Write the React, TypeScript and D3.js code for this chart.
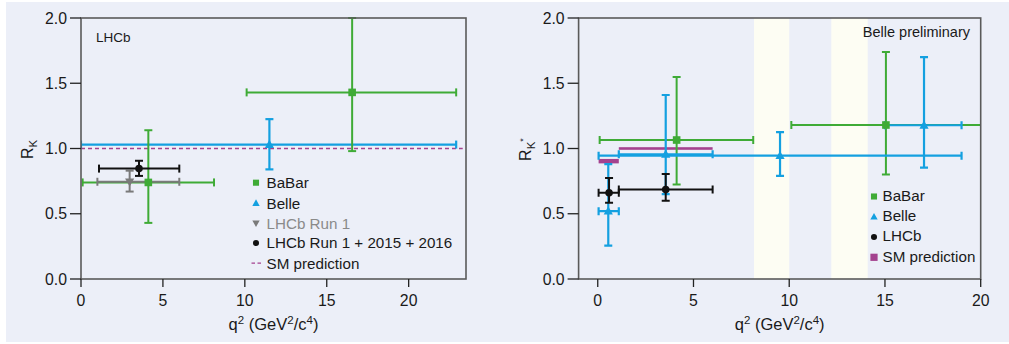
import React from "react";
import * as d3 from "d3";

type Pt = { q2: number; q2Lo: number; q2Hi: number; r: number; rLo: number; rHi: number };

const yTicks = [0, 0.5, 1.0, 1.5, 2.0];
const xTicksLeft = [0, 5, 10, 15, 20];
const xTicksRight = [0, 5, 10, 15, 20];

// Left panel: R_K
const leftBaBar: Pt[] = [
  { q2: 4.11, q2Lo: 0.1, q2Hi: 8.12, r: 0.74, rLo: 0.43, rHi: 1.14 },
  { q2: 16.55, q2Lo: 10.11, q2Hi: 22.9, r: 1.43, rLo: 0.98, rHi: 2.0 },
];
const leftBelle: Pt[] = [{ q2: 11.5, q2Lo: 0, q2Hi: 22.9, r: 1.03, rLo: 0.84, rHi: 1.225 }];
const leftLHCbRun1: Pt[] = [{ q2: 2.97, q2Lo: 1.0, q2Hi: 6.0, r: 0.745, rLo: 0.67, rHi: 0.83 }];
const leftLHCbNew: Pt[] = [{ q2: 3.54, q2Lo: 1.1, q2Hi: 6.0, r: 0.846, rLo: 0.79, rHi: 0.906 }];
const leftSM = { q2Lo: 0, q2Hi: 23.3, r: 1.0 };
const leftLegend = ["BaBar", "Belle", "LHCb Run 1", "LHCb Run 1 + 2015 + 2016", "SM prediction"];

// Right panel: R_K*
const rightBaBar: Pt[] = [
  { q2: 4.12, q2Lo: 0.1, q2Hi: 8.12, r: 1.065, rLo: 0.725, rHi: 1.548 },
  { q2: 15.05, q2Lo: 10.11, q2Hi: 21, r: 1.18, rLo: 0.8, rHi: 1.74 },
];
const rightBelle: Pt[] = [
  { q2: 0.55, q2Lo: 0.045, q2Hi: 1.1, r: 0.52, rLo: 0.255, rHi: 0.88 },
  { q2: 3.55, q2Lo: 1.1, q2Hi: 6.0, r: 0.955, rLo: 0.65, rHi: 1.41 },
  { q2: 9.52, q2Lo: 0.045, q2Hi: 19.0, r: 0.945, rLo: 0.79, rHi: 1.125 },
  { q2: 17.04, q2Lo: 15.0, q2Hi: 19.0, r: 1.178, rLo: 0.853, rHi: 1.7 },
];
const rightLHCb: Pt[] = [
  { q2: 0.59, q2Lo: 0.045, q2Hi: 1.1, r: 0.66, rLo: 0.585, rHi: 0.774 },
  { q2: 3.55, q2Lo: 1.1, q2Hi: 6.0, r: 0.685, rLo: 0.6, rHi: 0.805 },
];
const rightSM = [
  { q2Lo: 0.045, q2Hi: 1.1, rLo: 0.886, rHi: 0.92 },
  { q2Lo: 1.1, q2Hi: 6.0, rLo: 0.99, rHi: 1.01 },
];
const vetoBands = [
  [8.16, 10.0],
  [12.2, 14.1],
];
const rightLegend = ["BaBar", "Belle", "LHCb", "SM prediction"];

const GREEN = "#3fab36";
const BLUE = "#14a0e0";
const BLACK = "#111";
const GRAY = "#7a7a7a";
const MAGENTA = "#a4428f";
const BG = "#eceff8";
const FRAME = "#5a5a5a";
const FONT = "'Liberation Sans', Arial, sans-serif";

const yScale = d3.scaleLinear().domain([0, 2]).range([279, 18]);
const xLeft = d3.scaleLinear().domain([0, 23.5]).range([81, 466]);
const xRight = d3.scaleLinear().domain([-1, 20]).range([578.6, 980.7]);

function marker(kind: string, cx: number, cy: number, color: string, s = 1) {
  if (kind === "square")
    return <rect x={cx - 3.8 * s} y={cy - 3.8 * s} width={7.6 * s} height={7.6 * s} fill={color} />;
  if (kind === "tri")
    return (
      <path
        d={`M${cx},${cy - 4.8 * s}L${cx + 4.6 * s},${cy + 3.4 * s}L${cx - 4.6 * s},${cy + 3.4 * s}Z`}
        fill={color}
      />
    );
  if (kind === "dtri")
    return (
      <path
        d={`M${cx},${cy + 4.8 * s}L${cx + 4.6 * s},${cy - 3.4 * s}L${cx - 4.6 * s},${cy - 3.4 * s}Z`}
        fill={color}
      />
    );
  return <circle cx={cx} cy={cy} r={3.8 * s} fill={color} />;
}

function errLines(
  pts: Pt[],
  x: d3.ScaleLinear<number, number>,
  color: string,
  key: string,
  cap = 8,
  sw = 2
) {
  return pts.map((p, i) => {
    const cx = x(p.q2);
    const cy = yScale(p.r);
    const x0 = x(p.q2Lo);
    const x1 = x(p.q2Hi);
    const y0 = yScale(p.rLo);
    const y1 = yScale(p.rHi);
    return (
      <g key={key + i} stroke={color} strokeWidth={sw} fill="none">
        <line x1={x0} x2={x1} y1={cy} y2={cy} />
        <line x1={x0} x2={x0} y1={cy - cap / 2} y2={cy + cap / 2} />
        <line x1={x1} x2={x1} y1={cy - cap / 2} y2={cy + cap / 2} />
        <line x1={cx} x2={cx} y1={y0} y2={y1} />
        <line x1={cx - cap / 2} x2={cx + cap / 2} y1={y0} y2={y0} />
        <line x1={cx - cap / 2} x2={cx + cap / 2} y1={y1} y2={y1} />
      </g>
    );
  });
}

function markers(pts: Pt[], x: d3.ScaleLinear<number, number>, kind: string, color: string, key: string) {
  return pts.map((p, i) => <g key={key + i}>{marker(kind, x(p.q2), yScale(p.r), color)}</g>);
}

function axes(x: d3.ScaleLinear<number, number>, xt: number[], yLabelSup: string | null, idx: string) {
  const [xa, xb] = x.range();
  const yb = yScale(0);
  const ya = yScale(2);
  const cx = (xa + xb) / 2;
  return (
    <g fontFamily={FONT} fill="#1a1a1a">
      <rect x={xa} y={ya} width={xb - xa} height={yb - ya} fill="none" stroke={FRAME} strokeWidth={1.6} />
      {yTicks.map((t) => (
        <g key={"yt" + idx + t}>
          <line x1={xa - 11} x2={xa} y1={yScale(t)} y2={yScale(t)} stroke="#222" strokeWidth={1.3} />
          <text x={xa - 14} y={yScale(t)} dy="0.36em" textAnchor="end" fontSize={15.8}>
            {d3.format(".1f")(t)}
          </text>
        </g>
      ))}
      {xt.map((t) => (
        <g key={"xt" + idx + t}>
          <line x1={x(t)} x2={x(t)} y1={yb} y2={yb + 8} stroke="#222" strokeWidth={1.3} />
          <text x={x(t)} y={yb + 21} dy="0.36em" textAnchor="middle" fontSize={15.8}>
            {t}
          </text>
        </g>
      ))}
      <text x={cx} y={yb + 51} textAnchor="middle" fontSize={16.5}>
        q<tspan dy={-6} fontSize={11.5}>2</tspan>
        <tspan dy={6}> (GeV</tspan>
        <tspan dy={-6} fontSize={11.5}>2</tspan>
        <tspan dy={6}>/c</tspan>
        <tspan dy={-6} fontSize={11.5}>4</tspan>
        <tspan dy={6}>)</tspan>
      </text>
      <text
        transform={`translate(${xa - 48},${yScale(1) + 1}) rotate(-90)`}
        textAnchor="middle"
        fontSize={16}
      >
        R<tspan dy={4} fontSize={11.5}>K</tspan>
        {yLabelSup ? (
          <tspan dy={-9} fontSize={9}>
            {yLabelSup}
          </tspan>
        ) : null}
      </text>
    </g>
  );
}

export default function App() {
  const legLeftX = 256;
  const legLeftY = [182.7, 203.2, 223.2, 243, 263.2];
  const legRightX = 874;
  const legRightY = [195.5, 215.8, 236, 256.3];
  const leftKinds = ["square", "tri", "dtri", "circle"];
  const leftColors = [GREEN, BLUE, GRAY, BLACK];
  const rightKinds = ["square", "tri", "circle", "square"];
  const rightColors = [GREEN, BLUE, BLACK, MAGENTA];

  return (
    <svg
      width={1009}
      height={344}
      style={{ position: "absolute", left: 0, top: 0, display: "block" }}
    >
      <defs>
        <clipPath id="clipL">
          <rect x={xLeft.range()[0]} y={yScale(2) - 1} width={xLeft.range()[1] - xLeft.range()[0]} height={yScale(0) - yScale(2) + 1} />
        </clipPath>
        <clipPath id="clipR">
          <rect x={xRight.range()[0]} y={yScale(2) - 1} width={xRight.range()[1] - xRight.range()[0]} height={yScale(0) - yScale(2) + 1} />
        </clipPath>
      </defs>
      <rect x={0} y={0} width={1009} height={344} fill="#ffffff" />
      <rect x={6} y={2} width={1003} height={340} fill={BG} />

      {/* Left panel */}
      <g clipPath="url(#clipL)">
        <line
          x1={xLeft(leftSM.q2Lo)}
          x2={xLeft(leftSM.q2Hi)}
          y1={yScale(leftSM.r)}
          y2={yScale(leftSM.r)}
          stroke={MAGENTA}
          strokeWidth={1.3}
          strokeDasharray="4,3"
        />
        {errLines(leftBelle, xLeft, BLUE, "lb", 8, 2.2)}
        {errLines(leftBaBar, xLeft, GREEN, "lg")}
        {errLines(leftLHCbRun1, xLeft, GRAY, "lr1")}
        {errLines(leftLHCbNew, xLeft, BLACK, "ln")}
        {markers(leftBelle, xLeft, "tri", BLUE, "mlb")}
        {markers(leftBaBar, xLeft, "square", GREEN, "mlg")}
        {markers(leftLHCbRun1, xLeft, "dtri", GRAY, "mlr")}
        {markers(leftLHCbNew, xLeft, "circle", BLACK, "mln")}
      </g>
      {axes(xLeft, xTicksLeft, null, "L")}
      <text x={96} y={37} dy="0.36em" fontFamily={FONT} fontSize={13.5} fill="#1a1a1a">
        LHCb
      </text>
      <g fontFamily={FONT} fontSize={15.2}>
        {leftLegend.map((lab, i) => (
          <g key={"ll" + i}>
            {i < 4 ? (
              marker(leftKinds[i], legLeftX, legLeftY[i], leftColors[i], 0.8)
            ) : (
              <line
                x1={legLeftX - 4.5}
                x2={legLeftX + 5}
                y1={legLeftY[i]}
                y2={legLeftY[i]}
                stroke={MAGENTA}
                strokeWidth={1.3}
                strokeDasharray="3.5,2.5"
              />
            )}
            <text x={legLeftX + 10.5} y={legLeftY[i]} dy="0.36em" fill={i === 2 ? "#8a8a8a" : "#1a1a1a"}>
              {lab}
            </text>
          </g>
        ))}
      </g>

      {/* Right panel */}
      {vetoBands.map((b, i) => (
        <rect
          key={"vb" + i}
          x={xRight(b[0])}
          y={yScale(2)}
          width={xRight(b[1]) - xRight(b[0])}
          height={yScale(0) - yScale(2)}
          fill="#fdfdf3"
        />
      ))}
      <g clipPath="url(#clipR)">
        {rightSM.map((s, i) => (
          <rect
            key={"sm" + i}
            x={xRight(s.q2Lo)}
            y={yScale(s.rHi)}
            width={xRight(s.q2Hi) - xRight(s.q2Lo)}
            height={yScale(s.rLo) - yScale(s.rHi)}
            fill={MAGENTA}
          />
        ))}
        {errLines(rightBaBar, xRight, GREEN, "rg")}
        {errLines(rightBelle, xRight, BLUE, "rb", 8, 2.2)}
        {errLines(rightLHCb, xRight, BLACK, "rl")}
        {markers(rightBaBar, xRight, "square", GREEN, "mrg")}
        {markers(rightBelle, xRight, "tri", BLUE, "mrb")}
        {markers(rightLHCb, xRight, "circle", BLACK, "mrl")}
      </g>
      {axes(xRight, xTicksRight, "*", "R")}
      <text x={970} y={31.5} dy="0.36em" textAnchor="end" fontFamily={FONT} fontSize={14.5} fill="#1a1a1a">
        Belle preliminary
      </text>
      <g fontFamily={FONT} fontSize={15.2}>
        {rightLegend.map((lab, i) => (
          <g key={"rl" + i}>
            {marker(rightKinds[i], legRightX, legRightY[i] + 1, rightColors[i], i === 3 ? 0.95 : 0.8)}
            <text x={legRightX + 8.5} y={legRightY[i]} dy="0.36em" fill="#1a1a1a">
              {lab}
            </text>
          </g>
        ))}
      </g>
    </svg>
  );
}
